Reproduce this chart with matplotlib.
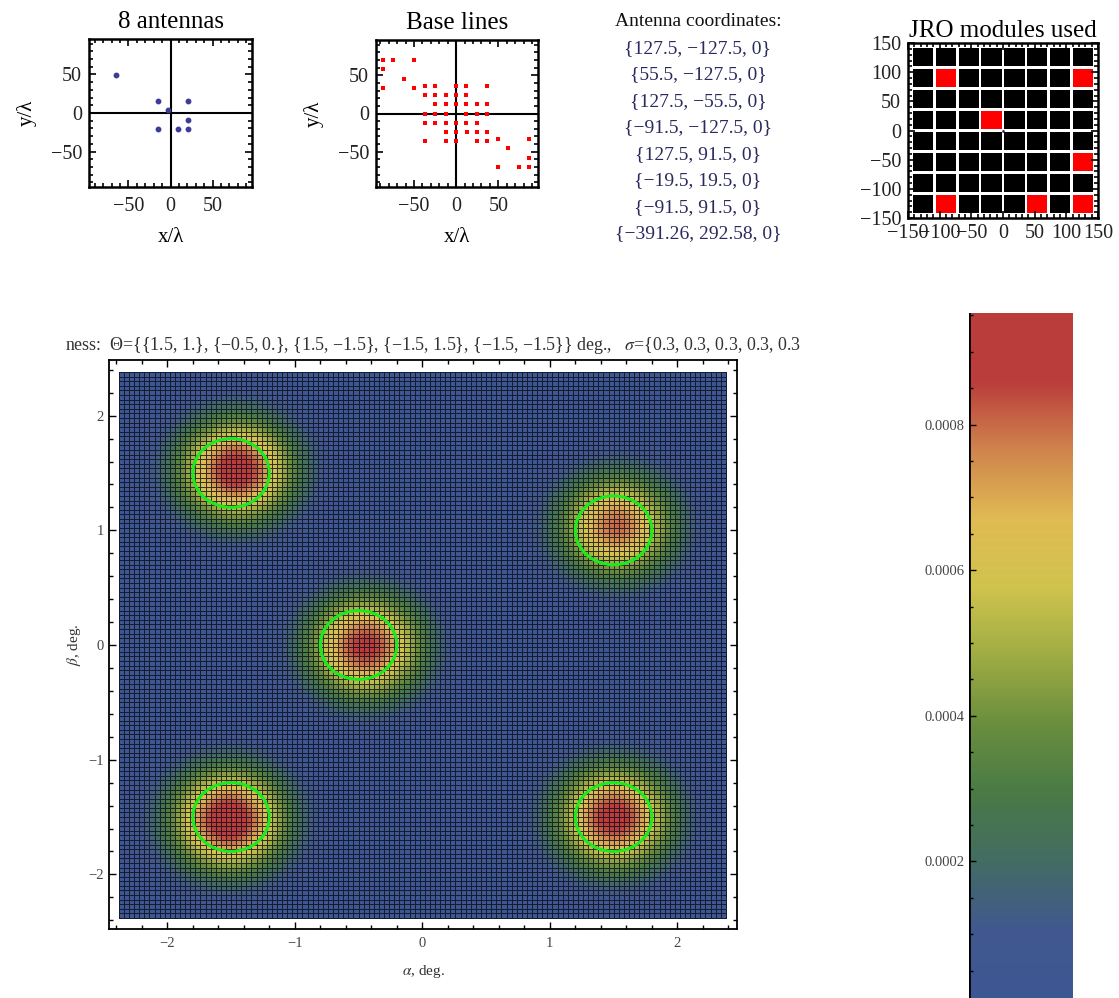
import numpy as np
import matplotlib
matplotlib.use("Agg")
import matplotlib.pyplot as plt
from matplotlib.colors import LinearSegmentedColormap, Normalize
from matplotlib.patches import Circle, Rectangle
from matplotlib.ticker import MultipleLocator, FuncFormatter

plt.rcParams['font.family'] = ['Liberation Serif', 'DejaVu Serif']
plt.rcParams['mathtext.fontset'] = 'stix'

# antenna coordinates, metres
ant_x = [127.5, 55.5, 127.5, -91.5, 127.5, -19.5, -91.5, -391.26]
ant_y = [-127.5, -127.5, -55.5, -127.5, 91.5, 19.5, 91.5, 292.58]
ant_z = [0, 0, 0, 0, 0, 0, 0, 0]
wavelength = 6.0  # m (~50 MHz)

# JRO modules (centres, m) that hold an antenna
mod_x = [126, 54, 126, -90, 126, -18, -90]
mod_y = [-126, -126, -54, -126, 90, 18, 90]

# true source directions (deg) and widths from the plot label
src_x = [1.5, -0.5, 1.5, -1.5, -1.5]
src_y = [1.0, 0.0, -1.5, 1.5, -1.5]
src_sigma = [0.3, 0.3, 0.3, 0.3, 0.3]

# reconstructed brightness blobs
peak_x = [1.52, -0.45, 1.50, -1.46, -1.52]
peak_y = [1.04, -0.01, -1.50, 1.53, -1.52]
peak_amp = [0.00079, 0.00087, 0.00089, 0.00091, 0.00094]
peak_width = [0.32, 0.32, 0.32, 0.32, 0.32]
background = 0.0000125

cb_min, cb_max = 0.0000125, 0.000953
cb_ticks = [0.0002, 0.0004, 0.0006, 0.0008]

# mathematica DarkRainbow
dark_rainbow = ['#3d5793', '#41588e', '#436c62', '#4a7a45', '#6a8e3e',
                '#9fac43', '#cfc34d', '#e0ba53', '#cf844d', '#ba3d3b']

W, H = 1119, 998
fig = plt.figure(figsize=(W / 100, H / 100), dpi=100)

def box(l, t, r, b):
    return [l / W, 1 - b / H, (r - l) / W, (b - t) / H]

def small_style(ax):
    for s in ax.spines.values():
        s.set_linewidth(1.8)
    ax.tick_params(which='both', direction='in', top=True, right=True,
                   labelsize=14.5, width=1.2, colors='k', labelcolor='#222222')
    ax.tick_params(which='major', length=5)
    ax.tick_params(which='minor', length=3)
    ax.tick_params(axis='x', pad=7)
    ax.tick_params(axis='y', pad=5)

# ---- 8 antennas
ax1 = fig.add_axes(box(89, 39, 252, 187))
ax1.axhline(0, color='k', lw=1.5, zorder=1)
ax1.axvline(0, color='k', lw=1.5, zorder=1)
ax1.plot(np.array(ant_x) / wavelength, np.array(ant_y) / wavelength, 'o',
         color='#3d3d99', ms=3.2, zorder=3)
ax1.set_xlim(-97, 97)
ax1.set_ylim(-96, 96)
ax1.set_xticks([-50, 0, 50])
ax1.set_yticks([-50, 0, 50])
ax1.xaxis.set_minor_locator(MultipleLocator(10))
ax1.yaxis.set_minor_locator(MultipleLocator(10))
small_style(ax1)
ax1.set_title('8 antennas', fontsize=18, pad=8)
ax1.set_xlabel('x/λ', fontsize=15, labelpad=9)
ax1.set_ylabel('y/λ', fontsize=15, labelpad=10)

# ---- base lines (all antenna pair differences)
ax2 = fig.add_axes(box(376, 40, 538, 187))
ax2.axhline(0, color='k', lw=1.5, zorder=1)
ax2.axvline(0, color='k', lw=1.5, zorder=1)
bx, by = [], []
for i in range(len(ant_x)):
    for j in range(len(ant_x)):
        if i != j:
            bx.append((ant_x[i] - ant_x[j]) / wavelength)
            by.append((ant_y[i] - ant_y[j]) / wavelength)
ax2.plot(bx, by, 's', color='#ff0000', ms=3.0, mew=0, zorder=3)
ax2.set_xlim(-95, 97)
ax2.set_ylim(-96, 96)
ax2.set_xticks([-50, 0, 50])
ax2.set_yticks([-50, 0, 50])
ax2.xaxis.set_minor_locator(MultipleLocator(10))
ax2.yaxis.set_minor_locator(MultipleLocator(10))
small_style(ax2)
ax2.set_title('Base lines', fontsize=18, pad=8)
ax2.set_xlabel('x/λ', fontsize=15, labelpad=9)
ax2.set_ylabel('y/λ', fontsize=15, labelpad=10)

# ---- antenna coordinate list
fig.text(698 / W, 1 - 22 / H, 'Antenna coordinates:', ha='center', va='center',
         fontsize=14, color='#111111')
for k in range(len(ant_x)):
    s = '{%s, %s, %s}' % (('%g' % ant_x[k]).replace('-', '−'),
                          ('%g' % ant_y[k]).replace('-', '−'), ant_z[k])
    fig.text(698 / W, 1 - (48.5 + 26.5 * k) / H, s, ha='center', va='center',
             fontsize=14, color='#2a2a5e')

# ---- JRO modules
ax3 = fig.add_axes(box(908, 43, 1098, 218))
gap = 3.5
for cx in np.arange(-126, 127, 36):
    for cy in np.arange(-126, 127, 36):
        ax3.add_patch(Rectangle((cx - 18 + gap / 2, cy - 18 + gap / 2), 36 - gap,
                                36 - gap, color='black', lw=0))
for cx, cy in zip(mod_x, mod_y):
    ax3.add_patch(Rectangle((cx - 18 + gap / 2, cy - 18 + gap / 2), 36 - gap,
                            36 - gap, color='#ff0000', lw=0))
ax3.plot([0], [0], '.', color='#2a2a6e', ms=2)
ax3.set_xlim(-150, 150)
ax3.set_ylim(-150, 150)
ax3.set_xticks(np.arange(-150, 151, 50))
ax3.set_yticks(np.arange(-150, 151, 50))
ax3.xaxis.set_minor_locator(MultipleLocator(10))
ax3.yaxis.set_minor_locator(MultipleLocator(10))
small_style(ax3)
ax3.tick_params(axis='x', pad=4)
ax3.set_title('JRO modules used', fontsize=18, pad=4)

# ---- reconstructed brightness
step = 0.04
edges = np.arange(-2.38, 2.38 + step / 2, step)
centres = (edges[:-1] + edges[1:]) / 2
gx, gy = np.meshgrid(centres, centres)
bright = np.full(gx.shape, background)
for px, py, a, w in zip(peak_x, peak_y, peak_amp, peak_width):
    bright += a * np.exp(-((gx - px) ** 2 + (gy - py) ** 2) / (2 * w ** 2))

f_top = (0.00086 - cb_min) / (cb_max - cb_min)
stops = [(f_top * i / 9, c) for i, c in enumerate(dark_rainbow)] + [(1.0, dark_rainbow[-1])]
cmap = LinearSegmentedColormap.from_list('darkrainbow', stops)
norm = Normalize(cb_min, cb_max)

ax = fig.add_axes(box(109.3, 360, 737.3, 929))
mesh = ax.pcolormesh(edges, edges, bright, cmap=cmap, norm=norm,
                     edgecolors=(0.05, 0.05, 0.1, 0.8), linewidth=0.6)
for sx, sy, sg in zip(src_x, src_y, src_sigma):
    ax.add_patch(Circle((sx, sy), sg, fill=False, ec='#1ee81e', lw=2.2, zorder=4))
ax.set_xlim(-2.455, 2.47)
ax.set_ylim(-2.476, 2.485)
ax.set_xticks([-2, -1, 0, 1, 2])
ax.set_yticks([-2, -1, 0, 1, 2])
ax.xaxis.set_minor_locator(MultipleLocator(0.2))
ax.yaxis.set_minor_locator(MultipleLocator(0.2))
ax.xaxis.set_major_formatter(FuncFormatter(lambda v, p: ('%d' % v).replace('-', '−')))
ax.yaxis.set_major_formatter(FuncFormatter(lambda v, p: ('%d' % v).replace('-', '−')))
for s in ax.spines.values():
    s.set_linewidth(1.3)
ax.tick_params(which='both', direction='in', top=True, right=True, width=1.0,
               labelsize=10.5, labelcolor='#444444')
ax.tick_params(which='major', length=5)
ax.tick_params(which='minor', length=3)
ax.tick_params(axis='x', pad=6)
ax.tick_params(axis='y', pad=4)
ax.set_xlabel(r'$\alpha$, deg.', fontsize=11, color='#333333', labelpad=9)
ax.set_ylabel(r'$\beta$, deg.', fontsize=11, color='#333333', labelpad=4)

fig.text(65 / W, 1 - 346 / H,
         'ness:  Θ={{1.5, 1.}, {−0.5, 0.}, {1.5, −1.5}, {−1.5, 1.5}, {−1.5, −1.5}} deg.,   '
         r'$\sigma$={0.3, 0.3, 0.3, 0.3, 0.3',
         ha='left', va='center', fontsize=12.9, color='#333333')

# ---- colour bar
cax = fig.add_axes(box(969.3, 313.3, 1073.3, 998))
cbar = fig.colorbar(mesh, cax=cax)
cbar.outline.set_visible(False)
cbar.set_ticks(cb_ticks)
cax.yaxis.set_minor_locator(MultipleLocator(0.00005))
cax.yaxis.set_ticks_position('left')
cax.yaxis.set_label_position('left')
cax.yaxis.set_major_formatter(FuncFormatter(lambda v, p: '%.4f' % v))
cax.tick_params(which='both', direction='in', colors='k', labelcolor='#444444',
                labelsize=10.5, width=1.0)
cax.tick_params(which='major', length=5)
cax.tick_params(which='minor', length=3)
cax.axvline(0, color='k', lw=2.0)

fig.savefig('out.png', dpi=100)
